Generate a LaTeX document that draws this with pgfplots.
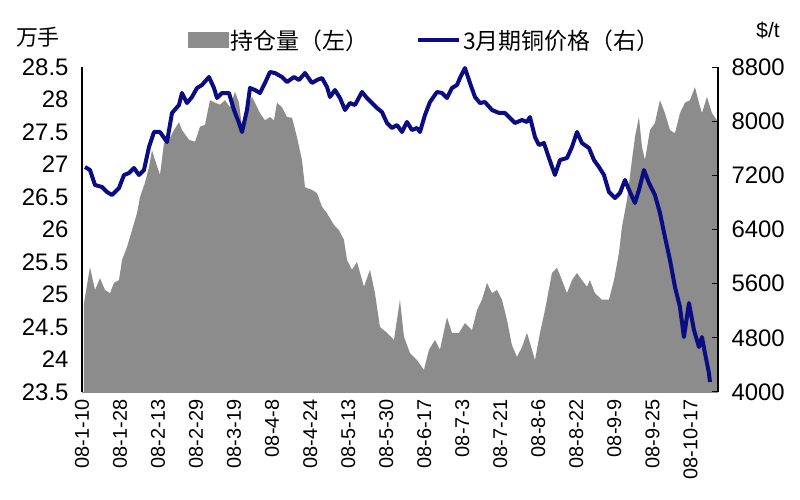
\documentclass[border=0pt]{standalone}
\usepackage{pgfplots}
\usepackage{pgfplotstable}
\pgfplotsset{compat=1.18}
\usepackage{fontspec}
\setmainfont{Liberation Sans}
\newfontfamily\cjk{Noto Sans CJK SC}
\definecolor{areagray}{RGB}{140,140,140}
\definecolor{lineblue}{RGB}{12,12,130}

\pgfplotstableread{
day pos
0.63 24.87
2.52 25.42
4.10 25.07
5.68 25.25
7.26 25.07
8.84 25.02
10.10 25.18
11.67 25.22
12.62 25.53
14.20 25.73
15.78 25.99
17.35 26.25
18.30 26.50
19.88 26.72
21.14 26.96
22.09 27.22
23.03 27.07
24.61 26.84
25.87 27.33
27.45 27.38
29.03 27.53
30.61 27.65
31.55 27.53
33.76 27.38
35.66 27.35
37.23 27.58
38.81 27.61
40.39 27.99
41.97 27.95
43.55 27.92
45.12 27.99
46.70 27.88
48.28 28.12
49.54 27.95
50.49 27.58
52.06 27.88
53.64 28.04
54.59 27.95
56.17 27.79
57.74 27.68
59.32 27.73
60.58 27.68
61.53 27.95
63.11 27.88
64.69 27.73
66.27 27.72
67.84 27.42
69.42 27.07
70.37 26.65
72.57 26.61
74.15 26.56
75.73 26.35
77.31 26.25
79.52 26.07
81.09 25.99
82.67 25.84
83.62 25.53
85.20 25.38
86.77 25.50
88.98 25.12
90.88 25.38
92.45 25.02
94.03 24.50
96.24 24.41
98.45 24.30
100.34 24.92
101.60 24.35
103.50 24.10
105.71 23.99
107.91 23.84
109.49 24.15
111.39 24.30
112.96 24.15
115.17 24.65
116.75 24.41
118.96 24.41
120.85 24.56
123.06 24.45
124.64 24.76
126.22 24.92
127.79 25.18
129.37 25.02
130.95 25.07
132.53 24.92
134.10 24.61
135.68 24.22
137.26 24.04
138.84 24.19
140.42 24.41
141.99 24.15
142.94 23.99
144.52 24.41
146.10 24.76
148.30 25.33
149.88 25.41
151.46 25.22
153.04 25.02
154.61 25.22
156.19 25.33
157.77 25.22
159.35 25.12
160.29 25.22
161.87 25.02
164.08 24.92
166.29 24.92
167.87 25.22
169.44 25.64
170.39 26.04
171.97 26.45
173.55 27.07
174.49 27.42
175.75 27.73
176.70 27.27
177.65 27.07
179.23 27.53
180.80 27.64
182.38 27.99
183.96 27.79
185.54 27.53
187.12 27.48
188.69 27.79
190.27 27.95
191.85 27.99
193.43 28.19
194.69 27.95
195.63 27.79
197.21 28.04
198.79 27.79
200.37 27.68
201.30 27.68
}\postable

\pgfplotstableread{
day price
0.95 7323
2.52 7279
4.10 7057
6.31 7028
7.89 6954
9.47 6909
11.67 7013
13.25 7205
14.83 7234
16.41 7308
17.99 7205
19.56 7279
21.14 7618
22.72 7840
24.61 7840
26.82 7692
28.40 8121
30.61 8239
31.55 8416
33.13 8268
34.71 8357
36.29 8490
37.86 8534
40.07 8652
41.65 8490
42.60 8342
44.18 8416
46.38 8416
47.96 8165
49.54 7973
50.49 7840
52.06 8165
53.01 8490
54.59 8460
56.17 8416
57.74 8564
59.32 8726
60.90 8711
63.11 8652
64.69 8578
66.90 8652
68.47 8608
70.37 8711
72.57 8564
74.15 8608
75.73 8637
77.31 8505
78.25 8357
79.83 8460
81.41 8342
82.99 8165
84.56 8268
86.14 8239
88.35 8431
89.93 8342
91.51 8268
93.08 8194
94.66 8135
96.24 7973
97.82 7899
99.40 7943
100.97 7840
102.55 7988
104.13 7869
105.71 7899
106.65 7840
108.23 8091
109.81 8283
112.02 8431
113.59 8416
115.17 8342
116.75 8490
118.33 8534
119.27 8637
120.85 8785
122.43 8564
124.01 8357
125.59 8268
127.16 8283
129.37 8165
131.58 8121
133.47 8121
135.05 8047
136.63 7973
138.84 8017
140.42 7988
141.36 8061
142.94 7766
144.20 7648
145.78 7677
147.36 7456
149.25 7205
150.83 7426
153.04 7456
154.61 7618
156.19 7840
157.77 7677
159.98 7604
161.56 7426
163.13 7323
164.71 7205
166.29 6954
168.18 6865
169.76 6939
171.34 7131
172.92 6954
174.49 6791
175.75 6983
177.33 7279
178.91 7087
180.80 6909
182.38 6644
183.96 6289
185.54 5950
187.12 5551
188.69 5255
189.95 4812
191.53 5314
193.11 4916
194.69 4665
195.63 4812
196.58 4576
197.84 4281
198.16 4148
}\pricetable

\pgfplotsset{
  base/.style={scale only axis, width=636bp, height=325bp,
    at={(82bp,108bp)}, anchor=south west, xmin=0, xmax=200.7},
}

\begin{document}
\begin{tikzpicture}
% grid lines only
\begin{axis}[
  base, ymin=23.5, ymax=28.5,
  axis lines=none,
  ytick={24,25,26,26.5,27.5,28,28.5},
  yticklabels={}, xtick=\empty,
  ymajorgrids,
  major grid style={black, dash pattern=on 6bp off 4bp, line width=1.2bp},
]
\end{axis}
% holdings area, left axis
\begin{axis}[
  base, ymin=23.5, ymax=28.5,
  axis x line*=bottom, axis y line*=left,
  x axis line style={draw=areagray, -},
  y axis line style={line width=1.2bp, -},
  ytick={23.5,24,24.5,25,25.5,26,26.5,27,27.5,28,28.5},
  yticklabels={23.5,24,24.5,25,25.5,26,26.5,27,27.5,28,28.5},
  ytick style={draw=none},
  yticklabel style={font=\fontsize{24}{24}\selectfont, anchor=east},
  yticklabel shift=10bp,
  xtick={0,12,24,36,48,60,72,84,96,108,120,132,144,156,168,180,192},
  xticklabels={08-1-10,08-1-28,08-2-13,08-2-29,08-3-19,08-4-8,08-4-24,08-5-13,08-5-30,08-6-17,08-7-3,08-7-21,08-8-6,08-8-22,08-9-9,08-9-25,08-10-17},
  xticklabel style={rotate=90, anchor=east, font=\fontsize{20}{20}\selectfont},
  xticklabel shift=4bp,
  xtick align=inside,
  x tick style={black!75, line width=0.8bp},
  major tick length=5bp,
  /pgf/number format/assume math mode=true,
]
\addplot[fill=areagray, draw=none] table[x=day, y=pos]{\postable} \closedcycle;
\end{axis}
% price line, right axis
\begin{axis}[
  base, ymin=4000, ymax=8800,
  axis y line*=right, axis x line=none,
  clip=false,
  ytick={4000,4800,5600,6400,7200,8000,8800},
  y axis line style={line width=1.2bp, -},
  ytick style={black, line width=1bp},
  ytick align=inside,
  major tick length=6bp,
  yticklabel style={font=\fontsize{24}{24}\selectfont, anchor=west},
  yticklabel shift=10bp,
  /pgf/number format/1000 sep={},
  /pgf/number format/assume math mode=true,
  legend columns=2,
  legend style={at={(axis description cs:0.1667,1.083)}, anchor=west,
    draw=none, fill=none, inner sep=0pt,
    font=\cjk\fontsize{23}{25}\selectfont,
    /tikz/every even column/.append style={column sep=46bp}},
]
\addlegendimage{legend image code/.code={\fill[areagray] (0bp,-7.5bp) rectangle (40bp,7.5bp);}}
\addlegendentry{持仓量（左）}
\addplot[lineblue, line width=4bp, line join=round,
  legend image code/.code={\draw[lineblue, line width=4bp] (0bp,0bp) -- (41bp,0bp);}]
  table[x=day, y=price]{\pricetable};
\addlegendentry{3月期铜价格（右）}
\end{axis}
\node[font=\cjk\fontsize{22}{22}\selectfont] at (38bp,463bp) {万手};
\node[font=\fontsize{21}{21}\selectfont] at (768bp,470bp) {\$/t};
\pgfresetboundingbox
\useasboundingbox (0,0) rectangle (800bp,500bp);
\end{tikzpicture}
\end{document}
